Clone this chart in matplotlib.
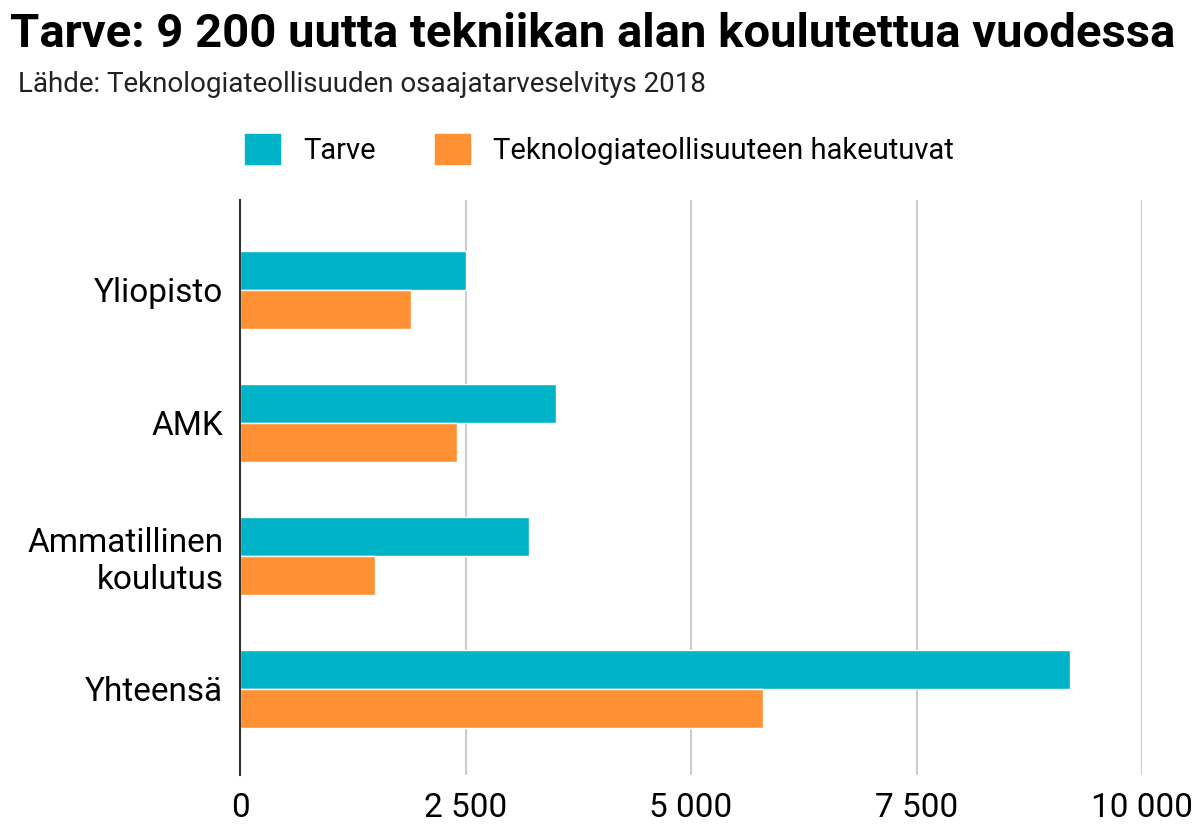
import matplotlib
matplotlib.use("Agg")
import matplotlib.pyplot as plt
import numpy as np
from matplotlib.patches import Patch

plt.rcParams["font.family"] = "Roboto"

categories = ["Yliopisto", "AMK", "Ammatillinen\nkoulutus", "Yhteensä"]
tarve = [2500, 3500, 3200, 9200]
hakeutuvat = [1900, 2400, 1500, 5800]
series_names = ["Tarve", "Teknologiateollisuuteen hakeutuvat"]
colors = ["#00b3c7", "#ff9134"]
xticks = [0, 2500, 5000, 7500, 10000]
xticklabels = ["0", "2 500", "5 000", "7 500", "10 000"]

fig = plt.figure(figsize=(11.99, 8.31), dpi=100)
ax = fig.add_axes([0.2002, 0.0674, 0.7523, 0.692])
y = np.arange(len(categories))
h = 0.29
ax.barh(y - h/2, tarve, height=h, color=colors[0], edgecolor="white", linewidth=1, zorder=3)
ax.barh(y + h/2, hakeutuvat, height=h, color=colors[1], edgecolor="white", linewidth=1, zorder=3)
ax.set_ylim(3.647, -0.677)
ax.set_xlim(0, 10000)
ax.set_yticks(y)
ax.set_yticklabels(categories, fontsize=24)
ax.set_xticks(xticks)
ax.set_xticklabels(xticklabels, fontsize=24)
ax.tick_params(length=0, pad=12)
ax.grid(axis="x", color="#cccccc", linewidth=1.5, zorder=0)
for s in ["top", "right", "bottom"]:
    ax.spines[s].set_visible(False)
ax.spines["left"].set_color("#333333")
ax.spines["left"].set_linewidth(1.5)
ax.spines["left"].set_zorder(4)

fig.text(0.008, 0.985, "Tarve: 9 200 uutta tekniikan alan koulutettua vuodessa",
         fontsize=34, fontweight="bold", va="top", ha="left")
fig.text(0.015, 0.915, "Lähde: Teknologiateollisuuden osaajatarveselvitys 2018",
         fontsize=20, va="top", ha="left", color="#222222")
handles = [Patch(color=c) for c in colors]
fig.legend(handles, series_names, loc="center", bbox_to_anchor=(0.5, 0.82), ncol=2,
           frameon=False, fontsize=21, handlelength=1.2, handleheight=1.2, columnspacing=2.0)
fig.savefig("out.png", dpi=100)
